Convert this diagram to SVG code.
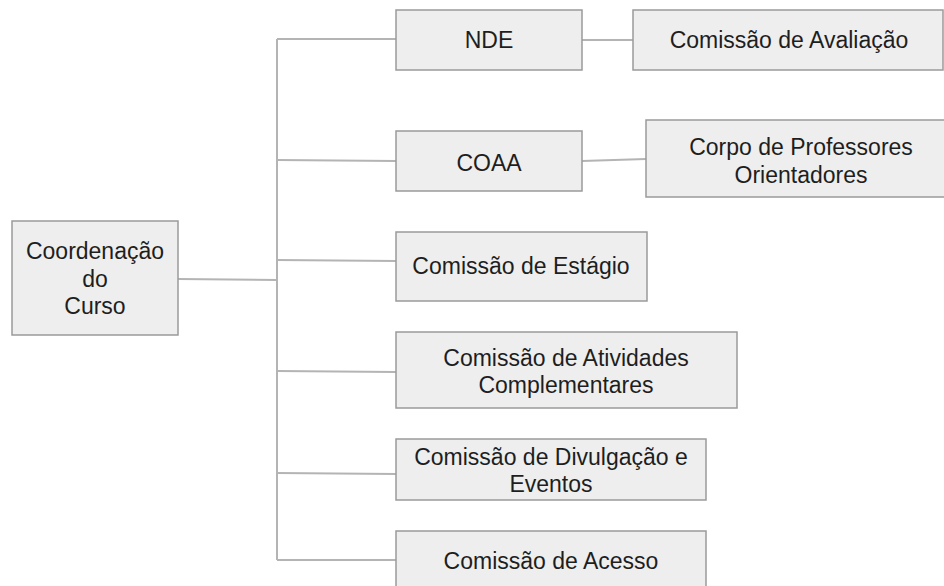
<svg xmlns="http://www.w3.org/2000/svg" width="944" height="586" viewBox="0 0 944 586">
<style>
.box{fill:#eeeeee;stroke:#9a9a9a;stroke-width:1.5}
.t{font-family:"Liberation Sans",Arial,sans-serif;font-size:23px;fill:#1e1e1e;text-anchor:middle}
.c{fill:none;stroke:#b4b4b4;stroke-width:2}
</style>
<rect width="944" height="586" fill="#ffffff"/>
<g id="connectors">
<path class="c" d="M178 279 L277 280"/>
<path class="c" d="M277 39 L277 560"/>
<path class="c" d="M277 39 L396 39"/>
<path class="c" d="M277 160 L396 161"/>
<path class="c" d="M277 260 L396 261"/>
<path class="c" d="M277 371 L396 372"/>
<path class="c" d="M277 473 L396 474"/>
<path class="c" d="M277 560 L396 560"/>
<path class="c" d="M582 40 L633 40"/>
<path class="c" d="M582 161 L646 159"/>
</g>
<g id="coord">
<rect class="box" x="12" y="221" width="166" height="114"/>
<text class="t" x="95" y="259">Coordenação</text>
<text class="t" x="95" y="287">do</text>
<text class="t" x="95" y="314">Curso</text>
</g>
<g id="nde">
<rect class="box" x="396" y="10" width="186" height="60"/>
<text class="t" x="489" y="48">NDE</text>
</g>
<g id="avaliacao">
<rect class="box" x="633" y="10" width="310" height="60"/>
<text class="t" x="789" y="48">Comissão de Avaliação</text>
</g>
<g id="coaa">
<rect class="box" x="396" y="131" width="186" height="60"/>
<text class="t" x="489" y="171">COAA</text>
</g>
<g id="corpo">
<rect class="box" x="646" y="120" width="300" height="77"/>
<text class="t" x="801" y="155">Corpo de Professores</text>
<text class="t" x="801" y="183">Orientadores</text>
</g>
<g id="estagio">
<rect class="box" x="396" y="232" width="251" height="69"/>
<text class="t" x="521" y="274">Comissão de Estágio</text>
</g>
<g id="atividades">
<rect class="box" x="396" y="332" width="341" height="76"/>
<text class="t" x="566" y="366">Comissão de Atividades</text>
<text class="t" x="566" y="393">Complementares</text>
</g>
<g id="divulgacao">
<rect class="box" x="396" y="439" width="310" height="61"/>
<text class="t" x="551" y="465">Comissão de Divulgação e</text>
<text class="t" x="551" y="492">Eventos</text>
</g>
<g id="acesso">
<rect class="box" x="396" y="531" width="310" height="70"/>
<text class="t" x="551" y="569">Comissão de Acesso</text>
</g>
</svg>
